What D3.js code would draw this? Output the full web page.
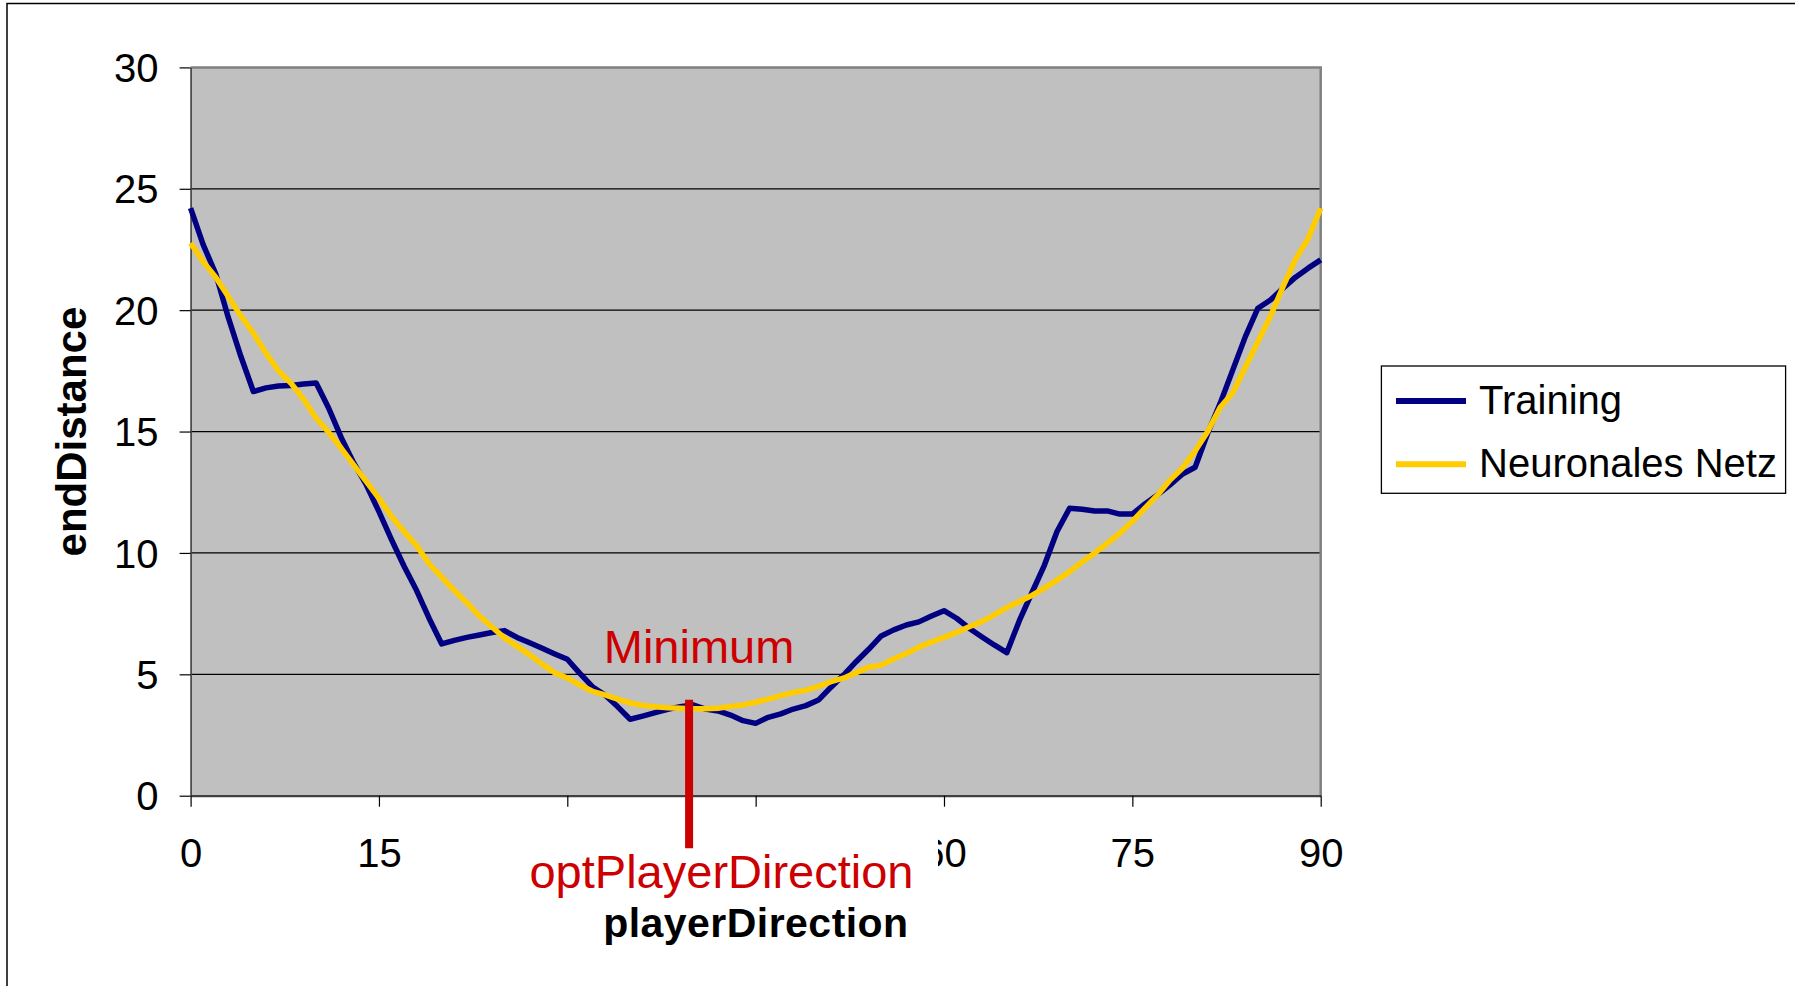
<!DOCTYPE html>
<html>
<head>
<meta charset="utf-8">
<script src="https://cdn.jsdelivr.net/npm/d3@7/dist/d3.min.js"></script>
<style>
  html, body { margin: 0; padding: 0; background: #ffffff; }
  svg { display: block; font-family: "Liberation Sans", Arial, sans-serif; }
</style>
</head>
<body>
<svg id="chart" width="1795" height="986"></svg>
<script>
// playerDirection in degrees, one sample per degree
const directions = d3.range(0, 91);

// endDistance measured in training
const training = [
  24.2, 22.7, 21.5, 19.7, 18.1, 16.65, 16.8, 16.88, 16.9, 16.96,
  17.0, 15.96, 14.75, 13.7, 12.8, 11.7, 10.55, 9.45, 8.45, 7.3,
  6.25, 6.4, 6.52, 6.62, 6.72, 6.8, 6.52, 6.3, 6.07, 5.84,
  5.62, 5.04, 4.49, 4.15, 3.67, 3.15, 3.28, 3.42, 3.56, 3.67,
  3.74, 3.57, 3.49, 3.32, 3.09, 2.98, 3.23, 3.37, 3.57, 3.71,
  3.94, 4.47, 4.97, 5.52, 6.03, 6.58, 6.83, 7.03, 7.16, 7.4,
  7.62, 7.31, 6.9, 6.55, 6.21, 5.89, 7.21, 8.36, 9.5, 10.88,
  11.84, 11.8, 11.73, 11.73, 11.6, 11.6, 12.02, 12.39, 12.8, 13.25,
  13.53, 14.93, 16.17, 17.54, 18.91, 20.08, 20.42, 20.9, 21.36, 21.73,
  22.07
];

// endDistance predicted by the neural network
const network = [
  22.76, 22.0, 21.36, 20.56, 19.76, 19.05, 18.23, 17.5, 16.99, 16.33,
  15.55, 14.96, 14.31, 13.62, 12.94, 12.25, 11.5, 10.88, 10.3, 9.55,
  9.0, 8.45, 7.95, 7.4, 6.95, 6.5, 6.15, 5.8, 5.42, 5.06,
  4.85, 4.56, 4.3, 4.15, 3.98, 3.82, 3.72, 3.66, 3.62, 3.6,
  3.58, 3.58, 3.6, 3.68, 3.74, 3.85, 3.98, 4.12, 4.25, 4.35,
  4.5, 4.7, 4.84, 5.07, 5.29, 5.38, 5.64, 5.86, 6.12, 6.33,
  6.52, 6.72, 6.96, 7.17, 7.45, 7.75, 8.0, 8.25, 8.55, 8.88,
  9.23, 9.63, 10.0, 10.4, 10.81, 11.3, 11.85, 12.38, 13.0, 13.5,
  14.2, 15.0, 16.0, 16.6, 17.65, 18.7, 19.75, 20.97, 22.1, 22.95,
  24.2
];

const xTicks = [0, 15, 30, 45, 60, 75, 90];
// tick labels hidden behind the optimum label box
const xTicksCovered = [30, 45];
const yTicks = [0, 5, 10, 15, 20, 25, 30];
const seriesNames = ["Training", "Neuronales Netz"];
const seriesColors = ["#000080", "#FFCC00"];

// optimum direction found by the network and the height of its marker
const optPlayerDirection = [39.7];
const optMarkerTop = [3.95];

const svg = d3.select("#chart");

// outer chart frame
svg.append("rect")
  .attr("x", 7).attr("y", 3.5)
  .attr("width", 1800).attr("height", 1000)
  .attr("fill", "none").attr("stroke", "#000").attr("stroke-width", 1.5);

const plot = { left: 190.6, right: 1320.7, top: 67.4, bottom: 795.7 };

const x = d3.scaleLinear().domain([0, 90]).range([plot.left, plot.right]);
const y = d3.scaleLinear().domain([0, 30]).range([plot.bottom, plot.top]);

// plot area background
svg.append("rect")
  .attr("x", plot.left).attr("y", plot.top)
  .attr("width", plot.right - plot.left).attr("height", plot.bottom - plot.top)
  .attr("fill", "#C0C0C0");

// horizontal gridlines
svg.append("g")
  .selectAll("line")
  .data(yTicks.filter(v => v > 0 && v < 30))
  .join("line")
  .attr("x1", plot.left).attr("x2", plot.right)
  .attr("y1", d => y(d)).attr("y2", d => y(d))
  .attr("stroke", "#000").attr("stroke-width", 1.2);

// top and right edge of the plot area
svg.append("path")
  .attr("d", `M${plot.left},${plot.top}H${plot.right}V${plot.bottom}`)
  .attr("fill", "none").attr("stroke", "#808080").attr("stroke-width", 2.5);

// y axis
const yAxis = svg.append("g")
  .attr("transform", `translate(${plot.left},0)`)
  .call(d3.axisLeft(y).tickValues(yTicks).tickSize(11).tickSizeOuter(0).tickPadding(21));
yAxis.select(".domain").attr("stroke", "#404040").attr("stroke-width", 1.6);
yAxis.selectAll(".tick line").attr("stroke", "#000").attr("stroke-width", 1.2);
yAxis.selectAll(".tick text")
  .attr("font-size", 40).attr("fill", "#000")
  .attr("font-family", "'Liberation Sans', Arial, sans-serif")
  .attr("dy", "0.355em");

// x axis
const xAxis = svg.append("g")
  .attr("transform", `translate(0,${plot.bottom})`)
  .call(d3.axisBottom(x).tickValues(xTicks).tickSize(11).tickSizeOuter(0).tickPadding(31.6));
xAxis.select(".domain").attr("stroke", "#404040").attr("stroke-width", 2.2);
xAxis.selectAll(".tick line").attr("stroke", "#000").attr("stroke-width", 1.2);
xAxis.selectAll(".tick text")
  .attr("font-size", 40).attr("fill", "#000")
  .attr("font-family", "'Liberation Sans', Arial, sans-serif");
xAxis.selectAll(".tick")
  .filter(d => xTicksCovered.includes(d))
  .select("text").remove();

// series lines
const line = d3.line()
  .x((d, i) => x(directions[i]))
  .y(d => y(d));

[training, network].forEach((values, k) => {
  svg.append("path")
    .datum(values)
    .attr("d", line)
    .attr("fill", "none")
    .attr("stroke", seriesColors[k])
    .attr("stroke-width", 5.5)
    .attr("stroke-linejoin", "round");
});

// optimum marker and its labels
const red = "#CC0000";
const optX = x(optPlayerDirection[0]);

svg.append("text")
  .attr("x", optX + 10).attr("y", 662.7)
  .attr("text-anchor", "middle")
  .attr("font-size", 47).attr("fill", red)
  .text("Minimum");

// white label box sits over the x tick labels below the marker
svg.append("rect")
  .attr("x", 505).attr("y", 826)
  .attr("width", 433).attr("height", 74)
  .attr("fill", "#ffffff");

svg.append("text")
  .attr("x", optX + 32.4).attr("y", 888.3)
  .attr("text-anchor", "middle")
  .attr("font-size", 47).attr("fill", red)
  .text("optPlayerDirection");

svg.append("line")
  .attr("x1", optX).attr("x2", optX)
  .attr("y1", y(optMarkerTop[0])).attr("y2", 848.3)
  .attr("stroke", red).attr("stroke-width", 8);

// axis titles
svg.append("text")
  .attr("x", (plot.left + plot.right) / 2).attr("y", 936.7)
  .attr("text-anchor", "middle")
  .attr("font-size", 41).attr("font-weight", "bold").attr("fill", "#000")
  .attr("textLength", 305).attr("lengthAdjust", "spacing")
  .text("playerDirection");

svg.append("text")
  .attr("transform", `translate(86,${(plot.top + plot.bottom) / 2}) rotate(-90)`)
  .attr("text-anchor", "middle")
  .attr("font-size", 42).attr("font-weight", "bold").attr("fill", "#000")
  .text("endDistance");

// legend
const legend = svg.append("g");
legend.append("rect")
  .attr("x", 1381.4).attr("y", 366)
  .attr("width", 404.2).attr("height", 127.3)
  .attr("fill", "#fff").attr("stroke", "#000").attr("stroke-width", 1.3);

const legendRows = [401, 464.3];
seriesNames.forEach((name, k) => {
  legend.append("line")
    .attr("x1", 1396).attr("x2", 1466)
    .attr("y1", legendRows[k]).attr("y2", legendRows[k])
    .attr("stroke", seriesColors[k]).attr("stroke-width", 6);
  legend.append("text")
    .attr("x", 1479).attr("y", legendRows[k] + 12.6)
    .attr("font-size", 40).attr("fill", "#000")
    .text(name);
});
</script>
</body>
</html>
